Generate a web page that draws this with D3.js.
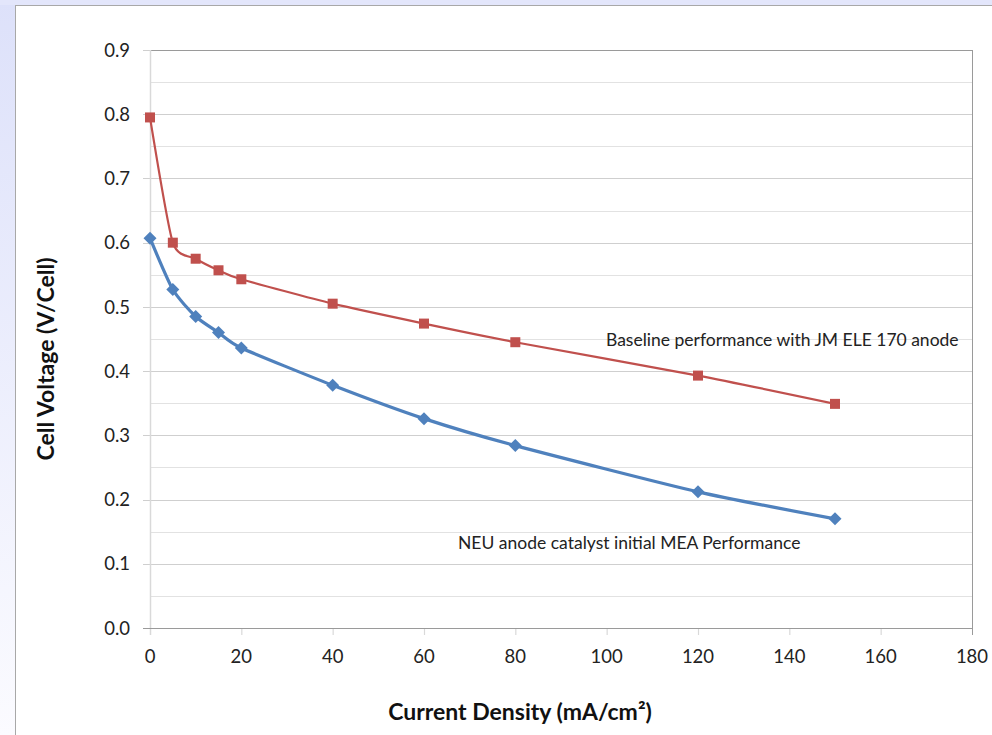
<!DOCTYPE html>
<html><head><meta charset="utf-8">
<script src="https://cdn.jsdelivr.net/npm/d3@7"></script>
<style>
html,body{margin:0;padding:0;background:#fff;}
svg{display:block;}
text{font-family:Lato,"Open Sans",sans-serif;}
</style></head>
<body>
<svg id="c" width="992" height="735"></svg>
<script>
const currentDensity = [0, 5, 10, 15, 20, 40, 60, 80, 120, 150];
const baselineVoltage = [0.795, 0.600, 0.575, 0.557, 0.543, 0.505, 0.474, 0.445, 0.393, 0.349];
const neuVoltage = [0.607, 0.527, 0.485, 0.460, 0.436, 0.378, 0.326, 0.284, 0.212, 0.170];
const xTicks = [0, 20, 40, 60, 80, 100, 120, 140, 160, 180];
const yTicks = [0, 0.1, 0.2, 0.3, 0.4, 0.5, 0.6, 0.7, 0.8, 0.9];
const yMinorTicks = [0.05, 0.15, 0.25, 0.35, 0.45, 0.55, 0.65, 0.75, 0.85];
const baselineLabel = "Baseline performance with JM ELE 170 anode";
const neuLabel = "NEU anode catalyst initial MEA Performance";
const xTitle = "Current Density (mA/cm²)";
const yTitle = "Cell Voltage (V/Cell)";

const svg = d3.select("#c");
const defs = svg.append("defs");
const lg = defs.append("linearGradient").attr("id","lav").attr("x1",0).attr("y1",0).attr("x2",0).attr("y2",1);
lg.append("stop").attr("offset","0%").attr("stop-color","#dde1fa");
lg.append("stop").attr("offset","100%").attr("stop-color","#fbfbff");

svg.append("rect").attr("x",0).attr("y",0).attr("width",992).attr("height",735).attr("fill","url(#lav)");
svg.append("rect").attr("x",0).attr("y",0).attr("width",992).attr("height",5).attr("fill","#e3e6fb");
svg.append("rect").attr("x",15.5).attr("y",5.5).attr("width",1000).attr("height",800)
  .attr("fill","#fff").attr("stroke","#a8a8a8").attr("stroke-width",1);

const x = d3.scaleLinear().domain([0,180]).range([150,972]);
const y = d3.scaleLinear().domain([0,0.9]).range([628,50]);

const g = svg.append("g");
g.selectAll(".minor").data(yMinorTicks).join("line")
  .attr("x1",x(0)).attr("x2",x(180)).attr("y1",d=>Math.round(y(d))+0.5).attr("y2",d=>Math.round(y(d))+0.5)
  .attr("stroke","#e2e2e2").attr("stroke-width",1.2);
g.selectAll(".major").data(yTicks.filter(d=>d>0)).join("line")
  .attr("x1",x(0)-7).attr("x2",x(180)).attr("y1",d=>Math.round(y(d))+0.5).attr("y2",d=>Math.round(y(d))+0.5)
  .attr("stroke","#cfcfcf").attr("stroke-width",1.2);
g.append("line").attr("x1",x(0)).attr("x2",x(180)).attr("y1",y(0.9)+0.5).attr("y2",y(0.9)+0.5).attr("stroke","#9a9a9a");
g.append("line").attr("x1",x(180)+0.5).attr("x2",x(180)+0.5).attr("y1",y(0.9)).attr("y2",y(0)+7).attr("stroke","#9a9a9a");
g.append("line").attr("x1",x(0)+0.5).attr("x2",x(0)+0.5).attr("y1",y(0.9)).attr("y2",y(0)+7).attr("stroke","#d9d9d9").attr("stroke-width",1.5);
g.selectAll(".xt").data(xTicks.filter(d=>d>0 && d<180)).join("line")
  .attr("x1",d=>x(d)+0.5).attr("x2",d=>x(d)+0.5).attr("y1",y(0)).attr("y2",y(0)+7)
  .attr("stroke","#d9d9d9").attr("stroke-width",1.2);
g.append("line").attr("x1",x(0)-7).attr("x2",x(180)).attr("y1",y(0)+0.5).attr("y2",y(0)+0.5).attr("stroke","#9a9a9a");

g.selectAll(".yl").data(yTicks).join("text")
  .attr("x",130).attr("y",d=>y(d)).attr("dy","0.36em").attr("text-anchor","end")
  .attr("font-size",18.5).attr("fill","#222").text(d=>d3.format(".1f")(d));
g.selectAll(".xl").data(xTicks).join("text")
  .attr("x",d=>x(d)).attr("y",y(0)+35).attr("text-anchor","middle")
  .attr("font-size",18.5).attr("fill","#222").text(d=>d);

svg.append("text").attr("x",520).attr("y",720).attr("text-anchor","middle")
  .attr("font-size",23).attr("font-weight","bold").attr("fill","#111").text(xTitle);
svg.append("text").attr("transform","translate(54,359) rotate(-90)").attr("text-anchor","middle")
  .attr("font-size",23).attr("font-weight","bold").attr("fill","#111").text(yTitle);

const line = d3.line().x((d,i)=>x(currentDensity[i])).y(d=>y(d)).curve(d3.curveCardinal.tension(0.35));

g.append("path").datum(baselineVoltage).attr("d",line).attr("fill","none")
  .attr("stroke","#c0504d").attr("stroke-width",2.2);
g.selectAll(".rm").data(baselineVoltage).join("rect")
  .attr("x",(d,i)=>x(currentDensity[i])-5).attr("y",d=>y(d)-5).attr("width",10).attr("height",10)
  .attr("fill","#c0504d");

g.append("path").datum(neuVoltage).attr("d",line).attr("fill","none")
  .attr("stroke","#4f81bd").attr("stroke-width",3.2);
g.selectAll(".bm").data(neuVoltage).join("path")
  .attr("transform",(d,i)=>`translate(${x(currentDensity[i])},${y(d)})`)
  .attr("d","M0,-6.5L6.5,0L0,6.5L-6.5,0Z").attr("fill","#4f81bd");

svg.append("text").attr("x",606).attr("y",346).attr("font-size",17.5).attr("fill","#222").text(baselineLabel);
svg.append("text").attr("x",458).attr("y",549).attr("font-size",17.5).attr("fill","#222").text(neuLabel);
</script>
</body></html>
